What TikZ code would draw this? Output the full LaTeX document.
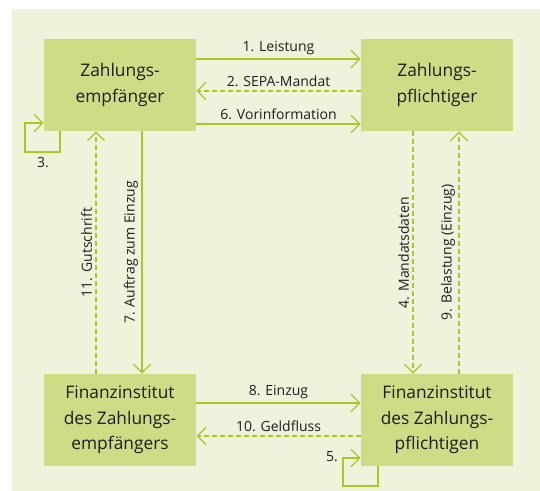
\documentclass[tikz,border=0pt]{standalone}
\usepackage{fontspec}
\setmainfont{Open Sans}
\usepackage{tikz}
\usetikzlibrary{arrows.meta,positioning,calc}
\definecolor{PanelGreen}{HTML}{EFF3DC}
\definecolor{BoxGreen}{HTML}{CDDC85}
\definecolor{LineGreen}{HTML}{A8C823}
\definecolor{TextGray}{HTML}{1E1E1E}

\begin{document}
\begin{tikzpicture}[
          x=0.75pt, y=-0.75pt,
          box/.style={rectangle, fill=BoxGreen, minimum width=114pt, minimum height=69pt, text=TextGray, font=\fontsize{13}{19}\selectfont, align=center},
          lbl/.style={text=TextGray, font=\fontsize{10.5}{12}\selectfont, inner sep=2.5pt},
          arrow/.style={-{Straight Barb[length=6.5pt,width=13pt]}, LineGreen, line width=1pt},
          dasharrow/.style={arrow, dash pattern=on 3.5pt off 2.5pt}
        ]
          % Panel
          \useasboundingbox (0,0) rectangle (540,491);
          \fill[PanelGreen] (12,9) rectangle (540,491);

          % Parties
          \node[box] (zemp) at (120,85) {Zahlungs-\\empfänger};
          \node[box] (zpfl) at (437,85) {Zahlungs-\\pflichtiger};

          % Banks
          \node[box] (fiemp) at (120,420) {Finanzinstitut\\des Zahlungs-\\empfängers};
          \node[box] (fipfl) at (437,420) {Finanzinstitut\\des Zahlungs-\\pflichtigen};

          % Arrows - parties
          \draw[arrow] (zemp.east |- 0,59) -- node[lbl, above] {1. Leistung} (zpfl.west |- 0,59);
          \draw[dasharrow] (zpfl.west |- 0,91) -- node[lbl, above] {2. SEPA-Mandat} (zemp.east |- 0,91);
          \draw[arrow] (zemp.east |- 0,124) -- node[lbl, above] {6. Vorinformation} (zpfl.west |- 0,124);

          % Arrows - banks
          \draw[arrow] (fiemp.east |- 0,403) -- node[lbl, above] {8. Einzug} (fipfl.west |- 0,403);
          \draw[dasharrow] (fipfl.west |- 0,436) -- node[lbl, above] {10. Geldfluss} (fiemp.east |- 0,436);

          % Arrows - left column
          \draw[dasharrow] (fiemp.north -| 96,0) -- node[lbl, rotate=90, anchor=south] {11. Gutschrift} (zemp.south -| 96,0);
          \draw[arrow] (zemp.south -| 142,0) -- node[lbl, rotate=90, anchor=south] {7. Auftrag zum Einzug} (fiemp.north -| 142,0);

          % Arrows - right column
          \draw[dasharrow] (zpfl.south -| 413,0) -- node[lbl, rotate=90, anchor=south] {4. Mandatsdaten} (fipfl.north -| 413,0);
          \draw[dasharrow] (fipfl.north -| 459,0) -- node[lbl, rotate=90, anchor=south] {9. Belastung (Einzug)} (zpfl.south -| 459,0);

          % Self loops
          \draw[arrow] (zemp.south -| 60,0) |- (25,152) |- (zemp.west |- 0,123);
          \node[lbl] (s3) at (43,163) {3.};
          \draw[arrow] (fipfl.south -| 378,0) |- (343,486) |- (fipfl.west |- 0,458);
          \node[lbl] (s5) at (332,457) {5.};

        \end{tikzpicture}
\end{document}
